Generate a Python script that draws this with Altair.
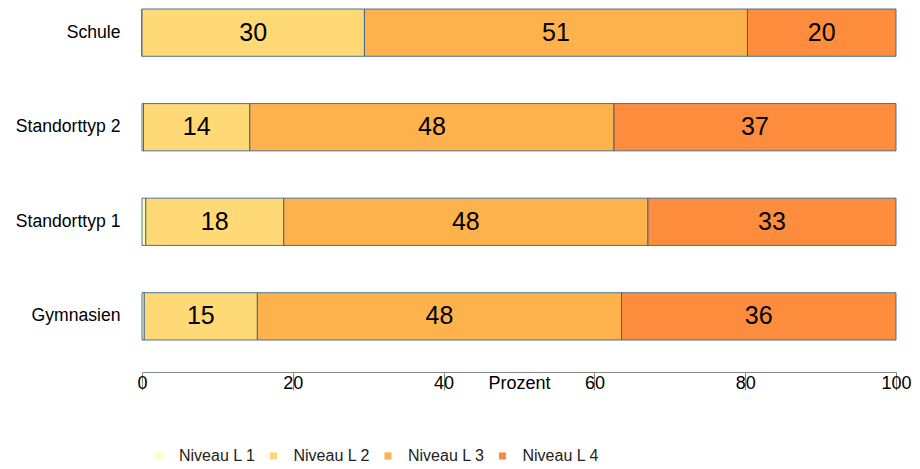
import altair as alt
import pandas as pd

categories = ["Schule", "Standorttyp 2", "Standorttyp 1", "Gymnasien"]
levels = ["Niveau L 1", "Niveau L 2", "Niveau L 3", "Niveau L 4"]
level_colors = ["#FFFFB2", "#FED976", "#FEB24C", "#FD8D3C"]

l1 = [0.0, 0.2, 0.5, 0.3]
l2 = [29.5, 14.1, 18.3, 15.0]
l3 = [50.8, 48.3, 48.3, 48.3]
l4 = [19.7, 37.4, 32.9, 36.4]
x_ticks = [0, 20, 40, 60, 80, 100]

rows = []
for i, c in enumerate(categories):
    for j, (lev, vals) in enumerate(zip(levels, [l1, l2, l3, l4])):
        rows.append({"cat": c, "level": lev, "ord": j, "value": vals[i]})
df = pd.DataFrame(rows)

FONT = "Liberation Sans"

base = alt.Chart(df).transform_stack(
    stack="value", groupby=["cat"], as_=["x0", "x1"],
    sort=[alt.SortField("ord", order="ascending")]
).transform_calculate(mid="(datum.x0 + datum.x1) / 2")

y_enc = alt.Y("cat:N", sort=categories, title=None,
              scale=alt.Scale(paddingInner=0.5, paddingOuter=0),
              axis=alt.Axis(domain=False, ticks=False, labelFontSize=17.6,
                            labelColor="black", labelPadding=22, labelFont=FONT))

bars = base.mark_bar(stroke="#2f5d93", strokeWidth=1, strokeOpacity=0.85).encode(
    x=alt.X("x0:Q", scale=alt.Scale(domain=[0, 100], nice=False),
            axis=alt.Axis(values=x_ticks, grid=False, title="Prozent",
                          titleFontSize=18, titleFontWeight="normal", titleColor="black",
                          titleFont=FONT, titleBaseline="top", titleY=2,
                          labelFontSize=18, labelColor="black", labelFont=FONT,
                          labelFlush=False, labelBound=False,
                          tickSize=18, labelPadding=-16,
                          domainColor="#888888", tickColor="#888888",
                          offset=32)),
    x2="x1:Q",
    y=y_enc,
    color=alt.Color("level:N", scale=alt.Scale(domain=levels, range=level_colors),
                    legend=alt.Legend(title=None, orient="none", direction="horizontal",
                                      legendX=9, legendY=439, symbolType="square",
                                      symbolSize=50, symbolStrokeWidth=0,
                                      labelFontSize=16, labelFont=FONT, labelColor="#222222",
                                      columnPadding=9.5, labelOffset=12)),
    order=alt.Order("ord:Q"),
)

texts = base.transform_filter("datum.value >= 5").mark_text(
    fontSize=25, font=FONT, color="black"
).encode(
    x=alt.X("mid:Q"),
    y=alt.Y("cat:N", sort=categories),
    text=alt.Text("value:Q", format=".0f"),
)

chart = alt.layer(bars, texts).properties(
    width=754, height=331,
    padding={"left": 7, "top": 0, "right": 0, "bottom": 0},
).configure_view(stroke=None)

chart.save("out.html", embed_options={"renderer": "svg", "actions": False})
